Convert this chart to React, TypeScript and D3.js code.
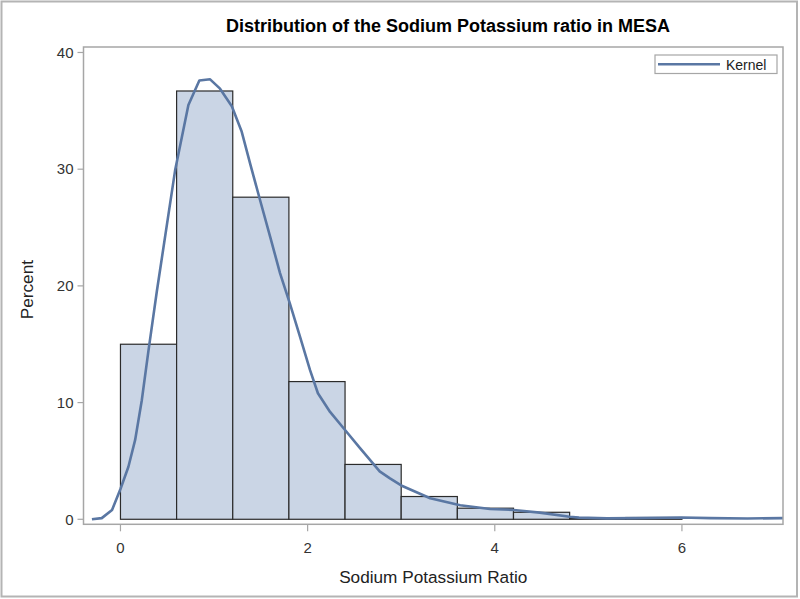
import React from "react";
import * as d3 from "d3";

const binStarts = [0, 0.6, 1.2, 1.8, 2.4, 3.0, 3.6, 4.2, 4.8, 5.4];
const binWidth = 0.6;
const binPercent = [15.0, 36.7, 27.6, 11.8, 4.7, 1.95, 0.95, 0.6, 0.1, 0.15];

const kernelX = [-0.305, -0.2, -0.09, 0.0, 0.085, 0.157, 0.228, 0.3, 0.39, 0.584, 0.726, 0.843, 0.958, 1.064, 1.19, 1.296, 1.385, 1.49, 1.6, 1.705, 1.81, 1.92, 2.025, 2.11, 2.24, 2.4, 2.56, 2.77, 2.88, 3.0, 3.31, 3.63, 3.95, 4.2, 4.48, 4.8, 4.9, 5.2, 5.5, 6.0, 6.3, 6.7, 7.1];
const kernelY = [0, 0.1, 0.8, 2.6, 4.5, 6.8, 10.2, 14.5, 19.6, 29.9, 35.5, 37.6, 37.7, 36.9, 35.4, 33.2, 30.5, 27.4, 24.2, 21.1, 18.5, 15.6, 12.8, 10.8, 9.2, 7.65, 6.1, 4.1, 3.5, 2.9, 1.8, 1.2, 0.88, 0.8, 0.57, 0.22, 0.14, 0.08, 0.1, 0.15, 0.1, 0.07, 0.1];

const xTicks = [0, 2, 4, 6];
const yTicks = [0, 10, 20, 30, 40];

const title = "Distribution of the Sodium Potassium ratio in MESA";
const xLabel = "Sodium Potassium Ratio";
const yLabel = "Percent";
const legendLabel = "Kernel";

export default function App() {
  const W = 800, H = 599;
  const L = 83.5, R = 783, T = 47, B = 524.3;
  const x = d3.scaleLinear().domain([-0.395, 7.08]).range([L, R]);
  const y = d3.scaleLinear().domain([-0.43, 40.47]).range([B, T]);
  const pts = kernelX.map((v, i) => [v, kernelY[i]] as [number, number]);
  const line = d3.line<[number, number]>().x(d => x(d[0])).y(d => y(d[1]));
  const font = "Arial, 'Liberation Sans', sans-serif";
  const kernelColor = "#5a77a3";
  const axisColor = "#a6a6a6";
  return (
    <div style={{ position: "fixed", left: 0, top: 0 }}>
      <svg width={W} height={H} style={{ display: "block", background: "#fff" }} fontFamily={font}>
        <rect x={1.5} y={1.5} width={795.5} height={595} fill="#fff" stroke="#b4b4b4" strokeWidth={2} />
        <text x={448} y={32} textAnchor="middle" fontSize={18} fontWeight="bold" fill="#000">{title}</text>
        <defs>
          <clipPath id="plotclip">
            <rect x={L} y={T} width={R - L} height={B - T} />
          </clipPath>
        </defs>
        {binStarts.map((s, i) => (
          <rect key={i} x={x(s)} y={y(binPercent[i])} width={x(s + binWidth) - x(s)} height={y(0) - y(binPercent[i])}
            fill="#cad5e5" stroke="#2b2b2b" strokeWidth={1.2} />
        ))}
        <path d={line(pts) || ""} fill="none" stroke={kernelColor} strokeWidth={2.6} strokeLinejoin="round" clipPath="url(#plotclip)" />
        <rect x={L} y={T} width={R - L} height={B - T} fill="none" stroke={axisColor} strokeWidth={1.5} />
        {yTicks.map(t => (
          <g key={t}>
            <line x1={L - 6} x2={L} y1={y(t)} y2={y(t)} stroke={axisColor} strokeWidth={1.2} />
            <text x={L - 10} y={y(t)} dy="0.35em" textAnchor="end" fontSize={15} fill="#333">{t}</text>
          </g>
        ))}
        {xTicks.map(t => (
          <g key={t}>
            <line x1={x(t)} x2={x(t)} y1={B} y2={B + 7} stroke={axisColor} strokeWidth={1.2} />
            <text x={x(t)} y={B + 29} textAnchor="middle" fontSize={15} fill="#333">{t}</text>
          </g>
        ))}
        <text x={(L + R) / 2} y={583} textAnchor="middle" fontSize={17.2} fill="#222">{xLabel}</text>
        <text transform={`translate(33,${(T + B) / 2 + 4}) rotate(-90)`} textAnchor="middle" fontSize={17.2} fill="#222">{yLabel}</text>
        <rect x={655} y={55} width={122} height={18.5} fill="#fff" stroke={axisColor} strokeWidth={1.2} />
        <line x1={658} x2={720} y1={64.3} y2={64.3} stroke={kernelColor} strokeWidth={2.6} />
        <text x={726} y={69.5} fontSize={14} fill="#222">{legendLabel}</text>
      </svg>
    </div>
  );
}
